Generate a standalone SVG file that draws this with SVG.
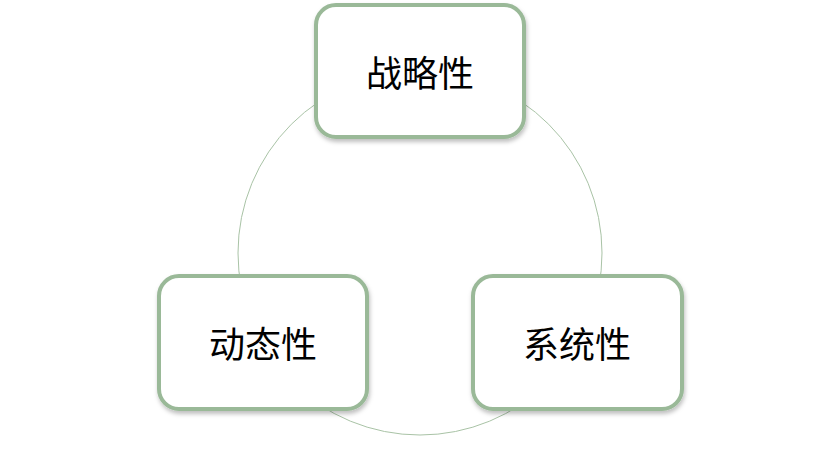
<svg xmlns="http://www.w3.org/2000/svg" width="840" height="460" viewBox="0 0 840 460">
<defs>
<style>
.box{fill:#ffffff;stroke:#9ab998;stroke-width:4}
.lbl{font-family:"Noto Sans CJK SC","Noto Sans CJK JP",sans-serif;font-size:36px;fill:#000;text-anchor:middle;dominant-baseline:central}
.ring{fill:none;stroke:#a9c3a6;stroke-width:1}
</style>
<filter id="sh" x="-10%" y="-10%" width="130%" height="130%">
<feDropShadow dx="1" dy="3" stdDeviation="2" flood-color="#000" flood-opacity="0.25"/>
</filter>
</defs>
<rect width="840" height="460" fill="#ffffff"/>
<g id="connectors">
<circle class="ring" cx="420" cy="253" r="182"/>
</g>
<g id="node-strategic">
<rect class="box" x="316" y="5" width="208" height="132" rx="20" filter="url(#sh)"/>
<text class="lbl" x="420" y="71">战略性</text>
</g>
<g id="node-dynamic">
<rect class="box" x="159" y="276" width="208" height="133" rx="20" filter="url(#sh)"/>
<text class="lbl" x="263" y="342">动态性</text>
</g>
<g id="node-systemic">
<rect class="box" x="473" y="276" width="209" height="133" rx="20" filter="url(#sh)"/>
<text class="lbl" x="577" y="342">系统性</text>
</g>
</svg>
